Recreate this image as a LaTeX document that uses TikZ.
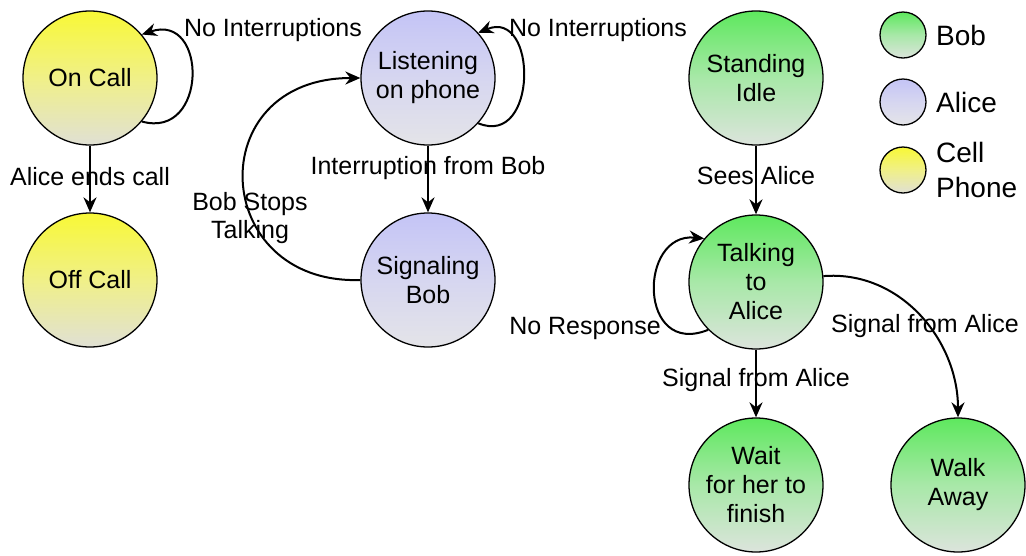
\documentclass[tikz,border=0pt]{standalone}
\usepackage{fontspec}
\setmainfont{Liberation Sans}
\usetikzlibrary{arrows.meta}
\tikzset{
  state/.style={circle, draw=black, line width=1.3pt, minimum size=134pt, inner sep=0pt, align=center, font=\fontsize{25}{29}\selectfont},
  bobst/.style={state, top color=bobtop, bottom color=bobbot, middle color=bobmid},
  alicest/.style={state, top color=alicetop, bottom color=alicebot, middle color=alicemid},
  phonest/.style={state, top color=phonetop, bottom color=phonebot, middle color=phonemid},
  legendc/.style={circle, draw=black, line width=1.3pt, minimum size=46pt, inner sep=0pt},
  lbl/.style={font=\fontsize{25}{28}\selectfont, align=center, inner sep=1pt},
  leg/.style={font=\fontsize{28}{35}\selectfont, align=left, inner sep=0pt, anchor=west},
  edge/.style={line width=2pt, -{Stealth[length=15pt,width=13pt]}},
}
\definecolor{bobtop}{HTML}{5EE85E}
\definecolor{bobmid}{HTML}{A8E8A8}
\definecolor{bobbot}{HTML}{DCE4DC}
\definecolor{alicetop}{HTML}{C4C4F6}
\definecolor{alicemid}{HTML}{D6D6F0}
\definecolor{alicebot}{HTML}{E4E4E8}
\definecolor{phonetop}{HTML}{F8F836}
\definecolor{phonemid}{HTML}{F0F088}
\definecolor{phonebot}{HTML}{E0E0D4}
\begin{document}
\begin{tikzpicture}[x=1pt,y=-1pt]
\useasboundingbox (0,0) rectangle (1026,555);
% states
\node[phonest] (on) at (90,78) {On Call};
\node[phonest] (off) at (90,280) {Off Call};
\node[alicest] (listen) at (428,78) {Listening\\on phone};
\node[alicest] (signal) at (428,280) {Signaling\\Bob};
\node[bobst] (idle) at (756,78) {Standing\\Idle};
\node[bobst] (talk) at (756,282) {Talking\\to\\Alice};
\node[bobst] (wait) at (756,485) {Wait\\for her to\\finish};
\node[bobst] (walk) at (958,485) {Walk\\Away};
% legend
\node[legendc, top color=bobtop, bottom color=bobbot, middle color=bobmid] (lb) at (903,35) {};
\node[legendc, top color=alicetop, bottom color=alicebot, middle color=alicemid] (la) at (903,102) {};
\node[legendc, top color=phonetop, bottom color=phonebot, middle color=phonemid] (lp) at (903,170) {};
\node[leg] (tb) at (936,35) {Bob};
\node[leg] (ta) at (936,102) {Alice};
\node[leg] (tp) at (936,170) {Cell\\Phone};
% edges
\draw[edge] (on.-40) .. controls (208,140) and (208,12) .. (on.40);
\node[lbl] (l1) at (273,30) {No Interruptions};
\draw[edge] (on) -- (off);
\node[lbl] (l2) at (90,177) {Alice ends call};
\draw[edge] (listen.-42) .. controls (538,148) and (538,8) .. (listen.42);
\node[lbl] (l3) at (598,30) {No Interruptions};
\draw[edge] (listen) -- (signal);
\node[lbl] (l4) at (428,168) {Interruption from Bob};
\draw[edge] (signal.west) .. controls (210,285) and (200,78) .. (listen.west);
\node[lbl] (l5) at (250,218) {Bob Stops\\Talking};
\draw[edge] (idle) -- (talk);
\node[lbl] (l6) at (756,176) {Sees Alice};
\draw[edge] (talk.-135) .. controls (638,358) and (638,232) .. (talk.140);
\node[lbl] (l7) at (585,328) {No Response};
\draw[edge] (talk) -- (wait);
\node[lbl] (l8) at (756,380) {Signal from Alice};
\draw[edge] (talk.5) .. controls (900,270) and (958,340) .. (walk.north);
\node[lbl] (l9) at (925,326) {Signal from Alice};
\end{tikzpicture}
\end{document}
